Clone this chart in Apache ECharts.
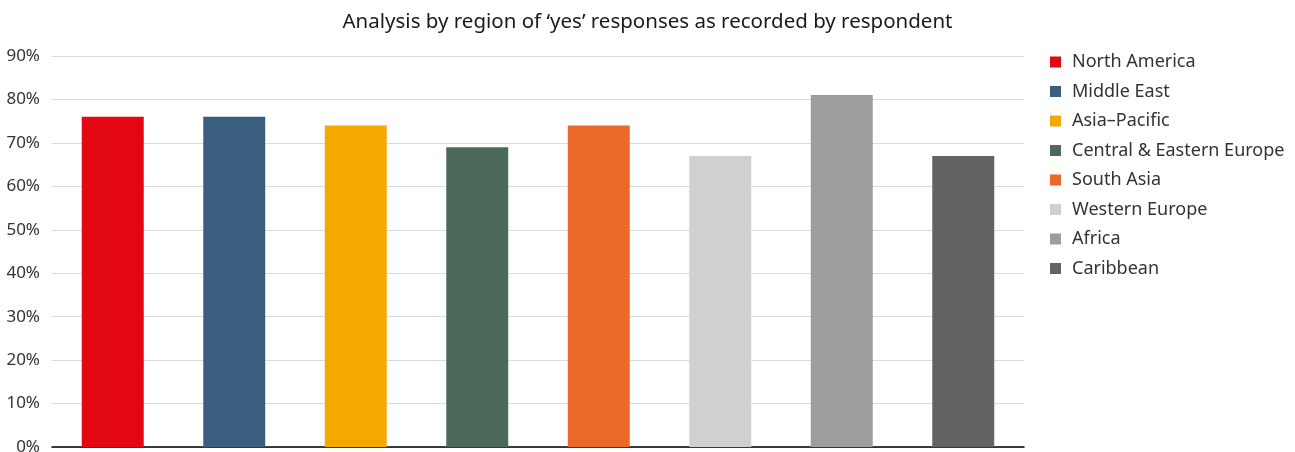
<!DOCTYPE html>
<html>
<head>
<meta charset="utf-8">
<script src="https://cdn.jsdelivr.net/npm/echarts@6/dist/echarts.min.js"></script>
<style>
html,body{margin:0;padding:0;background:#fff;}
#chart{width:1295px;height:452px;}
</style>
</head>
<body>
<div id="chart"></div>
<script>
const regions = ['North America','Middle East','Asia\u2013Pacific','Central & Eastern Europe','South Asia','Western Europe','Africa','Caribbean'];
const values = [76, 76, 74, 69, 74, 67, 81, 67];
const colors = ['#e30613','#3a5f7e','#f5a800','#4b6a5b','#ea6828','#d0d0d0','#9d9d9c','#636363'];
const yTicks = [0,10,20,30,40,50,60,70,80,90];

const FONT = '"Noto Sans", "Open Sans", sans-serif';
const series = regions.map((name, i) => ({
  name: name,
  type: 'bar',
  stack: 'all',
  barWidth: '51%',
  itemStyle: { color: colors[i] },
  data: regions.map((_, j) => j === i ? values[i] : '-')
}));

const chart = echarts.init(document.getElementById('chart'));
chart.setOption({
  animation: false,
  title: {
    text: 'Analysis by region of \u2018yes\u2019 responses as recorded by respondent',
    left: 'center', top: 7,
    textStyle: { fontFamily: FONT, fontSize: 20.5, fontWeight: 'normal', color: '#1a1a1a' }
  },
  legend: {
    orient: 'vertical', left: 1045, top: 48,
    itemWidth: 11, itemHeight: 11, itemGap: 11.5,
    icon: 'rect',
    textStyle: { fontFamily: FONT, fontSize: 18, color: '#333', padding: [0,0,0,6] },
    data: regions
  },
  grid: { left: 52, right: 271, top: 56, bottom: 5, containLabel: false, outerBoundsMode: 'none' },
  xAxis: {
    type: 'category', data: regions,
    axisLine: { lineStyle: { color: '#000', width: 1.5 } },
    axisTick: { show: false }, axisLabel: { show: false }
  },
  yAxis: {
    type: 'value', min: yTicks[0], max: yTicks[yTicks.length-1], interval: 10,
    axisLabel: { formatter: v => v + '%', fontFamily: FONT, fontSize: 17, color: '#333', margin: 12 },
    splitLine: { lineStyle: { color: '#dcdcdc', width: 1 } },
    axisLine: { show: false }, axisTick: { show: false }
  },
  series: series
});
</script>
</body>
</html>
